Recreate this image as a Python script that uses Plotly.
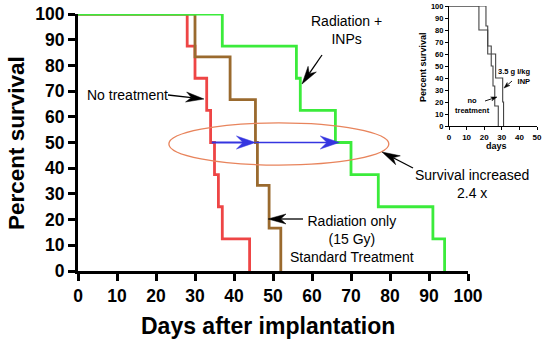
import math
import plotly.graph_objects as go

# ---------------- data ----------------
red_days = [0, 28, 30, 33, 34, 35, 36, 37, 44]
red_surv = [100, 87.5, 75, 62.5, 50, 37.5, 25, 12.5, 0]

brown_days = [0, 30, 39, 45.5, 46, 49, 52]
brown_surv = [100, 83.3, 66.7, 50, 33.3, 16.7, 0]

green_days = [0, 37, 56, 57, 66, 70, 77, 91, 94]
green_surv = [100, 87.5, 75, 62.5, 50, 37.5, 25, 12.5, 0]

inset_nt_days = [0, 21, 22, 24, 25, 26, 28]
inset_nt_surv = [100, 83.3, 66.7, 50, 33.3, 16.7, 0]
inset_inp_days = [0, 17, 22, 26.5, 30.5, 31]
inset_inp_surv = [100, 80, 60, 40, 20, 0]

x_ticks = list(range(0, 101, 10))
y_ticks = list(range(0, 101, 10))
inset_x_ticks = list(range(0, 51, 10))

median_level = 50
median_red, median_brown, median_green = 34.3, 45.5, 67

# ---------------- layout helpers ----------------
W, H = 550, 342
PL, PR, PT, PB = 78, 542, 4, 271
X0PX, X1PX = 78, 468     # main x axis 0..100
Y0PX, Y1PX = 271, 14     # main y axis 0..100


def pp(px, py):
    return (px - PL) / (PR - PL), (PB - py) / (PB - PT)


def d2px(x, y):
    return X0PX + (X1PX - X0PX) * x / 100, Y0PX + (Y1PX - Y0PX) * y / 100


FONT = "Arial, Liberation Sans, sans-serif"

fig = go.Figure()

for xs, ys, col in [(red_days, red_surv, "#EE4545"),
                    (brown_days, brown_surv, "#9A6A2E"),
                    (green_days, green_surv, "#3BEB3B")]:
    fig.add_trace(go.Scatter(x=xs, y=ys, mode="lines", line_shape="hv",
                             line=dict(color=col, width=2.8), cliponaxis=False,
                             showlegend=False, hoverinfo="skip"))

for xs, ys in [(inset_nt_days, inset_nt_surv), (inset_inp_days, inset_inp_surv)]:
    fig.add_trace(go.Scatter(x=xs, y=ys, mode="lines", line_shape="hv",
                             line=dict(color="#444444", width=1.1), cliponaxis=False,
                             xaxis="x2", yaxis="y2", showlegend=False, hoverinfo="skip"))

shapes = []


def arrow(tail, tip, color="black", lw=1.3, L=14, Wd=9, notch=0.7):
    (tx, ty), (hx, hy) = tail, tip
    dx, dy = hx - tx, hy - ty
    n = math.hypot(dx, dy)
    ux, uy = dx / n, dy / n
    nx, ny = -uy, ux
    bx, by = hx - L * ux, hy - L * uy
    kx, ky = hx - notch * L * ux, hy - notch * L * uy
    a = pp(tx, ty)
    b = pp(kx, ky)
    shapes.append(dict(type="line", xref="paper", yref="paper", x0=a[0], y0=a[1], x1=b[0], y1=b[1],
                       line=dict(color=color, width=lw)))
    pts = [(hx, hy), (bx + nx * Wd / 2, by + ny * Wd / 2), (kx, ky), (bx - nx * Wd / 2, by - ny * Wd / 2)]
    path = "M " + " L ".join("%.5f,%.5f" % pp(*p) for p in pts) + " Z"
    shapes.append(dict(type="path", xref="paper", yref="paper", path=path,
                       fillcolor=color, line=dict(color=color, width=0.5)))


# ellipse
shapes.append(dict(type="circle", xref="x", yref="y", x0=23.3, x1=79.7, y0=41.2, y1=57.6,
                   line=dict(color="#E8845C", width=1.3), layer="above"))

# blue median arrows
blue = "#3535E0"
arrow(d2px(median_red, median_level), d2px(median_brown, median_level), color=blue, lw=2, L=19, Wd=13, notch=0.65)
arrow(d2px(median_brown, median_level), d2px(median_green, median_level), color=blue, lw=1.5, L=19, Wd=13, notch=0.65)

# black annotation arrows
arrow((168, 95), (204, 99), L=18, Wd=10)
arrow((322, 55), (302, 84), L=18, Wd=10)
arrow((413, 168), (382, 152), L=18, Wd=10)
arrow((303, 219), (268, 219), L=18, Wd=10)
# inset arrows
arrow((485, 101), (497, 97), lw=0.9, L=6, Wd=4)
arrow((512, 81), (504, 88), lw=0.9, L=6, Wd=4)

annotations = []


def text(s, px, py, size, bold=False, align="center", xanchor="center", angle=0):
    x, y = pp(px, py)
    annotations.append(dict(text=s, x=x, y=y, xref="paper", yref="paper", showarrow=False,
                            xanchor=xanchor, yanchor="middle", align=align, textangle=angle,
                            font=dict(family=FONT, size=size, color="black",
                                      weight="bold" if bold else "normal")))


text("No treatment", 127, 95, 14)
text("Radiation +<br>INPs", 346, 30, 14)
text("Survival increased<br>2.4 x", 472, 184, 14)
text("Radiation only<br>(15 Gy)<br>Standard Treatment", 352, 239, 14)
text("Percent survival", 17, 143, 22.5, bold=True, angle=-90)
text("Days after implantation", 268, 326, 23, bold=True)
# inset texts
text("3.5 g I/kg<br>INP", 533, 76, 7.5, bold=True, align="right", xanchor="right")
text("no<br>treatment", 472, 105, 7.5, bold=True)
text("Percent survival", 423, 67, 9, bold=True, angle=-90)
text("days", 496, 146, 9, bold=True)

ax_common = dict(showgrid=False, zeroline=False, showline=True, linecolor="black",
                 ticks="outside", tickcolor="black", automargin=False)

fig.update_layout(
    width=W, height=H, autosize=False,
    margin=dict(l=PL, r=W - PR, t=PT, b=H - PB, pad=0, autoexpand=False),
    plot_bgcolor="white", paper_bgcolor="white",
    xaxis=dict(**ax_common, domain=[0, (X1PX - X0PX) / (PR - PL)], range=[0, 100],
               tickvals=x_ticks, linewidth=3, ticklen=7, tickwidth=2.5,
               tickfont=dict(family=FONT, size=17.5, weight="bold", color="black"), anchor="y"),
    yaxis=dict(**ax_common, domain=[0, (Y0PX - Y1PX) / (PB - PT)], range=[0, 100],
               tickvals=y_ticks, linewidth=3, ticklen=7, tickwidth=2.5,
               tickfont=dict(family=FONT, size=17.5, weight="bold", color="black"), anchor="x"),
    xaxis2=dict(**ax_common, domain=[(449 - PL) / (PR - PL), (537 - PL) / (PR - PL)], range=[0, 50],
                tickvals=inset_x_ticks, linewidth=1.1, ticklen=3, tickwidth=1,
                tickfont=dict(family=FONT, size=8, weight="bold", color="black"), anchor="y2"),
    yaxis2=dict(**ax_common, domain=[(PB - 126) / (PB - PT), (PB - 6) / (PB - PT)], range=[0, 100],
                tickvals=y_ticks, linewidth=1.1, ticklen=3, tickwidth=1,
                tickfont=dict(family=FONT, size=7.5, weight="bold", color="black"), anchor="x2"),
    shapes=shapes,
    annotations=annotations,
)

fig.write_html("out.html", config={"responsive": False, "displayModeBar": False})

with open("out.html", "r", encoding="utf-8") as f:
    html = f.read()
html = html.replace("<head>", "<head><style>html,body{margin:0;padding:0;overflow:hidden;}</style>", 1)
with open("out.html", "w", encoding="utf-8") as f:
    f.write(html)
